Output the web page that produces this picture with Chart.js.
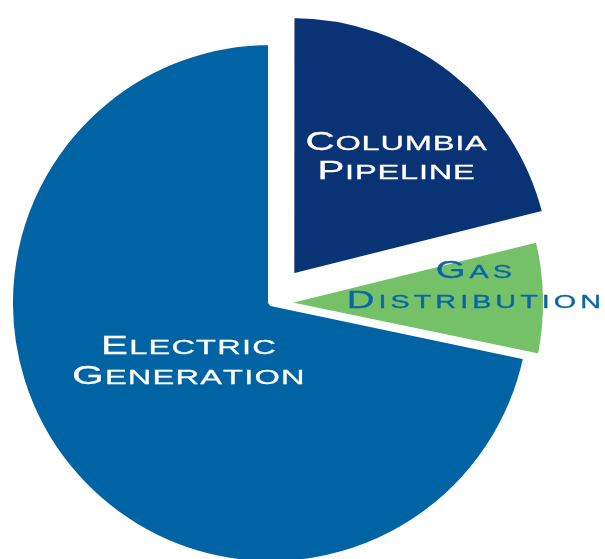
<!DOCTYPE html>
<html>
<head>
<meta charset="utf-8">
<script src="https://cdn.jsdelivr.net/npm/chart.js@4.4.0/dist/chart.umd.min.js"></script>
<style>
  html, body { margin: 0; padding: 0; background: #ffffff; }
  .c-chart { width: 605px; height: 559px; position: relative; }
</style>
</head>
<body>
<div class="c-chart"><canvas class="js-pie"></canvas></div>
<script>
// segment names as shown on the slices (two lines each)
const labels = ["Columbia Pipeline", "Gas Distribution", "Electric Generation"];
const labelLines = [["Columbia", "Pipeline"], ["Gas", "Distribution"], ["Electric", "Generation"]];
// share of each segment (%)
const values = [21.1, 7.2, 71.7];

const sliceColors = ['rgb(10,51,117)', 'rgb(116,193,104)', 'rgb(0,99,163)'];
const textColors = ['#ffffff', 'rgb(12,100,168)', '#ffffff'];
// how far each slice is pulled out of the pie
const sliceOffsets = [132, 36, 0];

// label placement: fraction of radius along the slice middle, plus a small nudge
const labelFrac = [0.615, 0.743, 0.383];
const labelNudge = [[6, 5], [0, -15], [-5, -6]];
const labelBig = [26, 24, 26];
const labelSmall = [21, 18, 21];
const labelStretch = [1.55, 1.6, 1.55];
const labelTrack = [0.8, 4, 1.2];
const labelGap = [29, 29.5, 30];

// draws "Small Caps" style text centred on cx, first letter of each word bigger
const drawSmallCaps = function(ctx, text, cx, baseline, big, small, stretch, track) {
  const parts = [];
  let first = true;
  for (const ch of text) {
    if (ch === ' ') { parts.push({ ch: ' ', size: small }); first = true; continue; }
    parts.push({ ch: ch.toUpperCase(), size: first ? big : small });
    first = false;
  }
  let total = 0;
  for (const p of parts) {
    ctx.font = `${p.size}px "Liberation Sans", Arial, sans-serif`;
    p.w = ctx.measureText(p.ch).width * stretch;
    total += p.w;
  }
  total += track * (parts.length - 1);
  let x = cx - total / 2;
  for (const p of parts) {
    ctx.font = `${p.size}px "Liberation Sans", Arial, sans-serif`;
    ctx.save();
    ctx.translate(x, baseline);
    ctx.scale(stretch, 1);
    ctx.fillText(p.ch, 0, 0);
    // thin outline to give the strokes a bit more weight
    ctx.strokeText(p.ch, 0, 0);
    ctx.restore();
    x += p.w + track;
  }
};

const sliceLabels = {
  id: 'sliceLabels',
  afterDatasetsDraw(chart) {
    const ctx = chart.ctx;
    const meta = chart.getDatasetMeta(0);
    meta.data.forEach(function(arc, i) {
      const mid = (arc.startAngle + arc.endAngle) / 2;
      const dx = Math.cos(mid);
      const dy = Math.sin(mid);
      const shift = (arc.options.offset || 0) / 4;
      const dist = shift + labelFrac[i] * arc.outerRadius;
      const cx = arc.x + dx * dist + labelNudge[i][0];
      const cy = arc.y + dy * dist + labelNudge[i][1];
      const cap = labelBig[i] * 0.716;
      const b1 = cy + (cap - labelGap[i]) / 2;
      ctx.save();
      ctx.fillStyle = textColors[i];
      ctx.strokeStyle = textColors[i];
      ctx.lineWidth = 0.3;
      ctx.textBaseline = 'alphabetic';
      ctx.textAlign = 'left';
      labelLines[i].forEach(function(line, j) {
        drawSmallCaps(ctx, line, cx, b1 + j * labelGap[i], labelBig[i], labelSmall[i], labelStretch[i], labelTrack[i]);
      });
      ctx.restore();
    });
  }
};

const pieCanvas = document.querySelector(".js-pie").getContext('2d');
const pieChart = new Chart(pieCanvas, {
  type: 'pie',
  data: {
    labels: labels,
    datasets: [{
      data: values,
      backgroundColor: sliceColors,
      borderColor: '#ffffff',
      borderWidth: 6,
      borderAlign: 'center',
      offset: sliceOffsets,
      hoverOffset: 0,
      radius: 261
    }]
  },
  options: {
    responsive: true,
    maintainAspectRatio: false,
    animation: false,
    layout: { padding: { left: 0, right: 63, top: 47, bottom: 0 } },
    plugins: {
      legend: { display: false },
      tooltip: { enabled: false }
    }
  },
  plugins: [sliceLabels]
});
</script>
</body>
</html>
